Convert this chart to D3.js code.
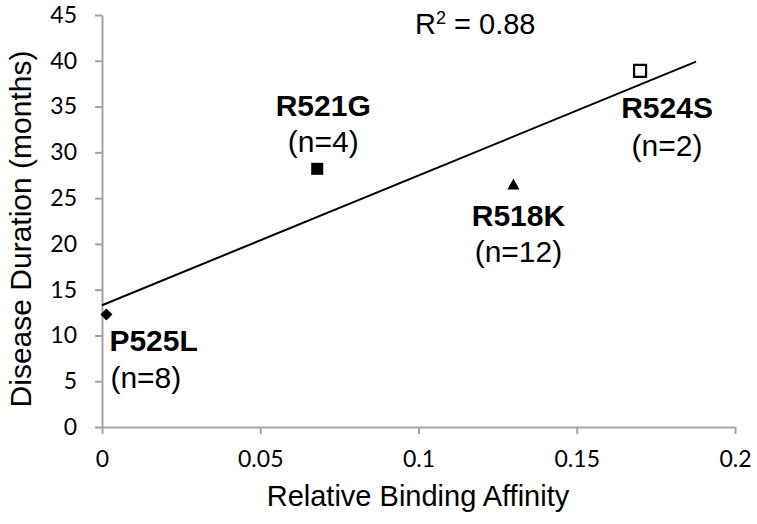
<!DOCTYPE html>
<html lang="en">
<head>
<meta charset="UTF-8">
<title>Disease Duration vs Relative Binding Affinity</title>
<script src="https://d3js.org/d3.v7.min.js"></script>
<style>
  body { margin: 0; background: #fff; }
  svg { display: block; }
  .tick-label { font-family: Lato, "Open Sans", sans-serif; font-size: 23px; fill: #000; }
  .axis-title { font-family: "Liberation Sans", Arial, sans-serif; font-size: 29px; fill: #000; }
  .pt-name { font-family: "Liberation Sans", Arial, sans-serif; font-size: 30px; font-weight: bold; fill: #000; }
  .pt-count { font-family: "Liberation Sans", Arial, sans-serif; font-size: 30px; fill: #000; }
</style>
</head>
<body>
<div id="chart"></div>
<script>
// mutations and values
const names = ["P525L", "R521G", "R518K", "R524S"];
const counts = ["(n=8)", "(n=4)", "(n=12)", "(n=2)"];
const affinity = [0.0014, 0.068, 0.130, 0.170];
const duration = [12.3, 28.2, 26.5, 38.9];
const shapes = ["diamond", "square", "triangle", "openSquare"];

// linear trend line end points
const trendX = [0, 0.1877];
const trendY = [13.3, 39.9];
const rSquared = "0.88";

const xTicks = [0, 0.05, 0.1, 0.15, 0.2];
const yTicks = [0, 5, 10, 15, 20, 25, 30, 35, 40, 45];

const W = 757, H = 524;
const x = d3.scaleLinear().domain([0, 0.2]).range([102, 735]);
const y = d3.scaleLinear().domain([0, 45]).range([427, 15]);

const svg = d3.select("#chart").append("svg")
    .attr("width", W).attr("height", H);

const axisColor = "#a3a3a3";

// y axis
const yAxis = svg.append("g")
    .attr("transform", `translate(${x(0)},0)`)
    .call(d3.axisLeft(y).tickValues(yTicks).tickSize(7).tickSizeOuter(0).tickPadding(18));
// x axis
const xAxis = svg.append("g")
    .attr("transform", `translate(0,${y(0)})`)
    .call(d3.axisBottom(x).tickValues(xTicks).tickSize(7).tickSizeOuter(0).tickPadding(17)
        .tickFormat(d => String(d)));

[yAxis, xAxis].forEach(g => {
    g.select(".domain").attr("stroke", axisColor).attr("stroke-width", 2);
    g.selectAll(".tick line").attr("stroke", axisColor).attr("stroke-width", 2);
    g.selectAll(".tick text").attr("class", "tick-label").attr("fill", "#000");
});

// axis titles
svg.append("text")
    .attr("class", "axis-title")
    .style("font-size", "30px")
    .attr("transform", `translate(31,${(y(0) + y(45)) / 2 + 8}) rotate(-90)`)
    .attr("text-anchor", "middle")
    .text("Disease Duration (months)");

svg.append("text")
    .attr("class", "axis-title")
    .attr("x", 418).attr("y", 506)
    .attr("text-anchor", "middle")
    .text("Relative Binding Affinity");

// trend line
svg.append("line")
    .attr("x1", x(trendX[0])).attr("y1", y(trendY[0]))
    .attr("x2", x(trendX[1])).attr("y2", y(trendY[1]))
    .attr("stroke", "#000").attr("stroke-width", 2);

// R squared
const r2 = svg.append("text")
    .attr("class", "axis-title")
    .attr("x", 415).attr("y", 34);
r2.append("tspan").text("R");
r2.append("tspan").attr("dy", -10).style("font-size", "18px").text("2");
r2.append("tspan").attr("dy", 10).text(" = " + rSquared);

// markers
const pts = names.map((n, i) => ({ name: n, count: counts[i], ax: affinity[i], dur: duration[i], shape: shapes[i] }));

pts.forEach(d => {
    const cx = x(d.ax), cy = y(d.dur);
    if (d.shape === "diamond") {
        svg.append("path")
            .attr("d", `M${cx},${cy - 6}L${cx + 6},${cy}L${cx},${cy + 6}L${cx - 6},${cy}Z`)
            .attr("fill", "#000");
    } else if (d.shape === "square") {
        svg.append("rect")
            .attr("x", cx - 6).attr("y", cy - 6).attr("width", 12).attr("height", 12)
            .attr("fill", "#000");
    } else if (d.shape === "triangle") {
        svg.append("path")
            .attr("d", `M${cx},${cy - 6}L${cx + 6},${cy + 5}L${cx - 6},${cy + 5}Z`)
            .attr("fill", "#000");
    } else {
        svg.append("rect")
            .attr("x", cx - 6).attr("y", cy - 6).attr("width", 12).attr("height", 12)
            .attr("fill", "#fff").attr("stroke", "#000").attr("stroke-width", 2.2);
    }
});

// label placement (pixel offsets from each point)
const labelPos = [
    { anchor: "start", dx: 3, dy1: 37, dy2: 74 },
    { anchor: "middle", dx: 6, dy1: -53, dy2: -17 },
    { anchor: "middle", dx: 5, dy1: 42, dy2: 78 },
    { anchor: "middle", dx: 27, dy1: 47, dy2: 85 }
];

pts.forEach((d, i) => {
    const cx = x(d.ax), cy = y(d.dur), p = labelPos[i];
    svg.append("text").attr("class", "pt-name")
        .attr("x", cx + p.dx).attr("y", cy + p.dy1)
        .attr("text-anchor", p.anchor).text(d.name);
    svg.append("text").attr("class", "pt-count")
        .attr("x", cx + p.dx + (p.anchor === "start" ? 1 : 0)).attr("y", cy + p.dy2)
        .attr("text-anchor", p.anchor).text(d.count);
});
</script>
</body>
</html>
